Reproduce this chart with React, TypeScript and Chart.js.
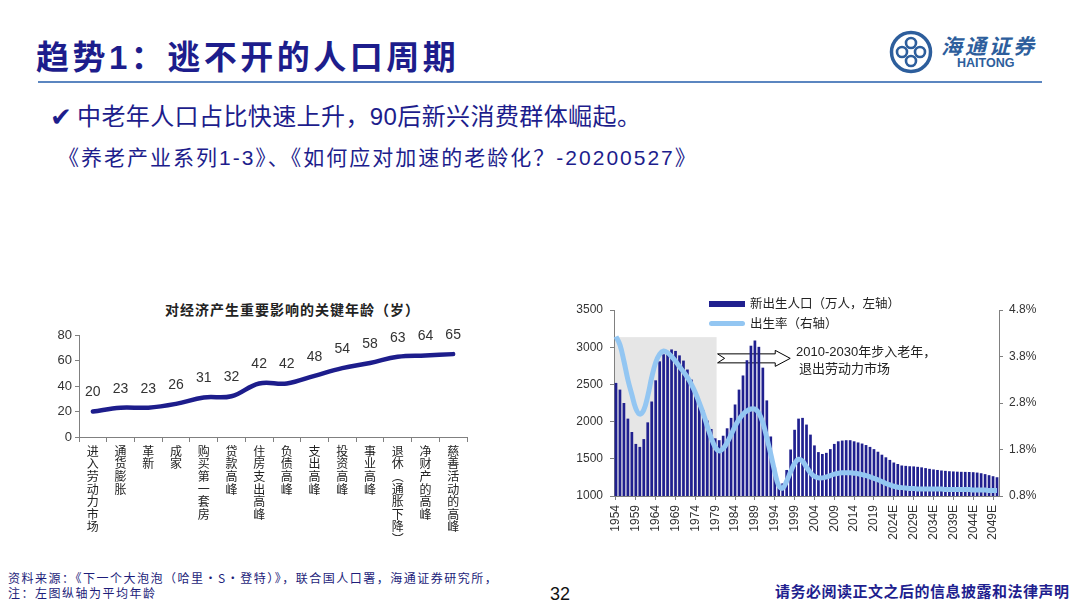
import React, { useEffect, useRef } from 'react';
import { Chart, registerables } from 'chart.js';

Chart.register(...registerables);

// ---------- Left chart data ----------
const ageCategories = [
  '进入劳动力市场', '通货膨胀', '革新', '成家', '购买第一套房', '贷款高峰', '住房支出高峰',
  '负债高峰', '支出高峰', '投资高峰', '事业高峰', '退休（通胀下降）', '净财产的高峰', '慈善活动的高峰',
];
const keyAges = [20, 23, 23, 26, 31, 32, 42, 42, 48, 54, 58, 63, 64, 65];
const ageAxisMin = 0;
const ageAxisMax = 80;
const ageAxisStep = 20;

// ---------- Right chart data ----------
const firstYear = 1954;
const lastActualYear = 2019;
const lastYear = 2050;
const yearLabels = Array.from({ length: lastYear - firstYear + 1 }, (_, i) => {
  const y = firstYear + i;
  return y <= lastActualYear ? String(y) : y + 'E';
});

// 新出生人口（万人） 1954 - 2050E
const births = [
  2520, 2430, 2250, 2040, 1860, 1700, 1660, 1765, 1990, 2270, // 1954-1963
  2555, 2810, 2905, 2950, 2970, 2950, 2890, 2820, 2700, 2565, // 1964-1973
  2420, 2285, 2150, 2015, 1900, 1775, 1750, 1810, 1910, 2050, // 1974-1983
  2230, 2430, 2620, 2825, 3020, 3090, 3005, 2725, 2285, 1800, // 1984-1993
  1385, 1170, 1170, 1350, 1625, 1890, 2040, 2050, 1960, 1825, // 1994-2003
  1680, 1590, 1565, 1580, 1630, 1700, 1735, 1745, 1750, 1750, // 2004-2013
  1735, 1720, 1705, 1685, 1660, 1630, 1595, 1555, 1520, 1485, // 2014-2023
  1450, 1430, 1410, 1405, 1400, 1398, 1392, 1385, 1375, 1365, // 2024-2033
  1357, 1350, 1343, 1338, 1333, 1330, 1327, 1325, 1324, 1323, // 2034-2043
  1320, 1315, 1306, 1294, 1280, 1266, 1252,                   // 2044-2050
];

// 出生率（%） 1954 - 2050E
const birthRate = [
  4.23, 4.05, 3.7, 3.3, 2.98, 2.68, 2.56, 2.65, 2.95, 3.35, // 1954-1963
  3.67, 3.85, 3.92, 3.88, 3.8, 3.7, 3.58, 3.47, 3.35, 3.2,  // 1964-1973
  3.02, 2.8, 2.57, 2.3, 2.05, 1.85, 1.77, 1.82, 1.95, 2.12, // 1974-1983
  2.3, 2.45, 2.56, 2.63, 2.67, 2.67, 2.58, 2.38, 2.05, 1.7, // 1984-1993
  1.32, 1.02, 0.97, 1.12, 1.32, 1.5, 1.59, 1.55, 1.42, 1.3, // 1994-2003
  1.22, 1.19, 1.19, 1.21, 1.24, 1.27, 1.29, 1.3, 1.3, 1.3,  // 2004-2013
  1.29, 1.28, 1.26, 1.24, 1.21, 1.18, 1.15, 1.11, 1.07, 1.04, // 2014-2023
  1.01, 0.99, 0.98, 0.97, 0.96, 0.96, 0.95, 0.95, 0.95, 0.95, // 2024-2033
  0.95, 0.95, 0.95, 0.94, 0.94, 0.94, 0.94, 0.94, 0.94, 0.94, // 2034-2043
  0.93, 0.93, 0.93, 0.93, 0.92, 0.92, 0.92,                   // 2044-2050
];

const birthsAxisMin = 1000;
const birthsAxisMax = 3500;
const birthsAxisStep = 500;
const rateAxisMin = 0.8;
const rateAxisMax = 4.8;
const rateAxisStep = 1;

// annotation anchors (in data units)
const shadeEndIndex = 25;      // 1979
const shadeTopValue = 3135;
const arrowFromIndex = 25.6;
const arrowToIndex = 43.9;
const arrowLevel = 2850;

const NAVY = '#1D1D8C';
const BAR_NAVY = '#20208F';
const LIGHT_BLUE = '#93C6F2';
const AXIS_GREY = '#808080';
const LATIN = '"Liberation Sans", Arial, "Noto Sans CJK SC", sans-serif';
const CJK = '"Noto Sans CJK SC", "Liberation Sans", sans-serif';

const valueLabelPlugin = {
  id: 'valueLabels',
  afterDatasetsDraw(chart: any) {
    const { ctx } = chart;
    const meta = chart.getDatasetMeta(0);
    const data = chart.data.datasets[0].data;
    ctx.save();
    ctx.font = '14px ' + LATIN;
    ctx.fillStyle = '#333333';
    ctx.textAlign = 'center';
    ctx.textBaseline = 'middle';
    meta.data.forEach((pt: any, i: number) => {
      ctx.fillText(String(data[i]), pt.x, pt.y - 19);
    });
    ctx.restore();
  },
};

const annotationPlugin = {
  id: 'annotations',
  beforeDatasetsDraw(chart: any) {
    const { ctx, chartArea } = chart;
    const xs = chart.scales.x;
    const ys = chart.scales.y;
    ctx.save();
    // grey shaded period
    const step = xs.getPixelForValue(1) - xs.getPixelForValue(0);
    const right = xs.getPixelForValue(shadeEndIndex) + step * 0.35;
    const top = ys.getPixelForValue(shadeTopValue);
    ctx.fillStyle = '#E6E6E6';
    ctx.fillRect(chartArea.left + 1, top, right - chartArea.left - 1, chartArea.bottom - top);
    // hollow notched arrow
    const x0 = xs.getPixelForValue(arrowFromIndex);
    const x1 = xs.getPixelForValue(arrowToIndex);
    const cy = ys.getPixelForValue(arrowLevel);
    const bh = 4.5, hh = 8, hl = 15, notch = 7;
    ctx.beginPath();
    ctx.moveTo(x0, cy - bh);
    ctx.lineTo(x1 - hl, cy - bh);
    ctx.lineTo(x1 - hl, cy - hh);
    ctx.lineTo(x1, cy);
    ctx.lineTo(x1 - hl, cy + hh);
    ctx.lineTo(x1 - hl, cy + bh);
    ctx.lineTo(x0, cy + bh);
    ctx.lineTo(x0 + notch, cy);
    ctx.closePath();
    ctx.fillStyle = '#FFFFFF';
    ctx.fill();
    ctx.lineWidth = 1;
    ctx.strokeStyle = '#000000';
    ctx.stroke();
    ctx.restore();
  },
};

function AgeChart() {
  const ref = useRef<HTMLCanvasElement>(null);
  useEffect(() => {
    const chart = new Chart(ref.current as HTMLCanvasElement, {
      type: 'line',
      data: {
        labels: ageCategories,
        datasets: [
          {
            data: keyAges,
            borderColor: NAVY,
            borderWidth: 4.5,
            tension: 0.4,
            pointRadius: 0,
            fill: false,
            borderCapStyle: 'round',
          },
        ],
      },
      options: {
        animation: false,
        responsive: false,
        maintainAspectRatio: false,
        layout: { padding: { left: 0, right: 13, top: 15, bottom: 0 } },
        plugins: { legend: { display: false }, tooltip: { enabled: false } },
        scales: {
          x: {
            type: 'category',
            offset: true,
            grid: { offset: true, drawOnChartArea: false, tickLength: 5, color: AXIS_GREY },
            border: { color: AXIS_GREY },
            ticks: {
              autoSkip: false,
              maxRotation: 0,
              minRotation: 0,
              padding: 3,
              color: '#222222',
              font: { family: CJK, size: 12, lineHeight: 1.05 },
              callback: (_v: any, i: number) =>
                ageCategories[i].replace('（', '︵').replace('）', '︶').split(''),
            },
            afterFit: (s: any) => { s.height = 113; },
          },
          y: {
            min: ageAxisMin,
            max: ageAxisMax,
            ticks: {
              stepSize: ageAxisStep,
              padding: 3,
              color: '#333333',
              font: { family: LATIN, size: 13 },
              callback: (v: any) => String(v),
            },
            grid: { drawOnChartArea: false, tickLength: 4, color: AXIS_GREY },
            border: { color: AXIS_GREY },
            afterFit: (s: any) => { s.width = 49; },
          },
        },
      } as any,
      plugins: [valueLabelPlugin],
    });
    return () => chart.destroy();
  }, []);
  return (
    <canvas
      ref={ref}
      width={450}
      height={230}
      style={{ position: 'absolute', left: 30, top: 320, width: 450, height: 230 }}
    />
  );
}

function BirthChart() {
  const ref = useRef<HTMLCanvasElement>(null);
  useEffect(() => {
    const chart = new Chart(ref.current as HTMLCanvasElement, {
      type: 'bar',
      data: {
        labels: yearLabels,
        datasets: [
          {
            type: 'line',
            label: '出生率（右轴）',
            data: birthRate,
            yAxisID: 'y1',
            borderColor: LIGHT_BLUE,
            borderWidth: 5,
            pointRadius: 0,
            tension: 0.4,
            fill: false,
            order: 0,
          },
          {
            type: 'bar',
            label: '新出生人口（万人，左轴）',
            data: births,
            yAxisID: 'y',
            backgroundColor: BAR_NAVY,
            barPercentage: 0.68,
            categoryPercentage: 1,
            order: 1,
          },
        ],
      },
      options: {
        animation: false,
        responsive: false,
        maintainAspectRatio: false,
        layout: { padding: { left: 0, right: 0, top: 15, bottom: 0 } },
        plugins: { legend: { display: false }, tooltip: { enabled: false } },
        scales: {
          x: {
            offset: true,
            grid: {
              offset: false,
              drawOnChartArea: false,
              tickLength: 4,
              color: (c: any) => (c.index % 5 === 0 ? AXIS_GREY : 'rgba(0,0,0,0)'),
            },
            border: { color: AXIS_GREY },
            ticks: {
              autoSkip: false,
              minRotation: 90,
              maxRotation: 90,
              padding: 5,
              color: '#333333',
              font: { family: LATIN, size: 12 },
              callback: (_v: any, i: number) => (i % 5 === 0 ? yearLabels[i] : ''),
            },
            afterFit: (s: any) => { s.height = 64; },
          },
          y: {
            position: 'left',
            min: birthsAxisMin,
            max: birthsAxisMax,
            ticks: {
              stepSize: birthsAxisStep,
              padding: 7,
              color: '#333333',
              font: { family: LATIN, size: 12 },
              callback: (v: any) => String(v),
            },
            grid: { drawOnChartArea: false, tickLength: 4, color: AXIS_GREY },
            border: { color: AXIS_GREY },
            afterFit: (s: any) => { s.width = 59; },
          },
          y1: {
            position: 'right',
            min: rateAxisMin,
            max: rateAxisMax,
            ticks: {
              stepSize: rateAxisStep,
              padding: 6,
              color: '#333333',
              font: { family: LATIN, size: 12 },
              callback: (v: any) => Number(v).toFixed(1) + '%',
            },
            grid: { drawOnChartArea: false, tickLength: 4, color: AXIS_GREY },
            border: { color: AXIS_GREY },
            afterFit: (s: any) => { s.width = 81; },
          },
        },
      } as any,
      plugins: [annotationPlugin],
    });
    return () => chart.destroy();
  }, []);
  return (
    <canvas
      ref={ref}
      width={525}
      height={265}
      style={{ position: 'absolute', left: 555, top: 295, width: 525, height: 265 }}
    />
  );
}

const abs = (left: number, top: number, extra: React.CSSProperties = {}): React.CSSProperties => ({
  position: 'absolute',
  left,
  top,
  whiteSpace: 'nowrap',
  ...extra,
});

export default function App() {
  return (
    <div
      style={{
        position: 'fixed',
        left: 0,
        top: 0,
        width: 1080,
        height: 607,
        background: '#FFFFFF',
        overflow: 'hidden',
        fontFamily: CJK,
      }}
    >
      {/* Title */}
      <div style={abs(36, 40, { fontSize: 33, lineHeight: '36px', fontWeight: 700, color: NAVY, fontFamily: LATIN, letterSpacing: 3.5 })}>
        趋势1：逃不开的人口周期
      </div>
      <div style={abs(38, 81, { width: 1004, height: 2, background: '#5B86C0' })} />

      {/* Logo */}
      <svg style={{ position: 'absolute', left: 888, top: 29 }} width={46} height={46} viewBox="0 0 46 46">
        <circle cx={23} cy={23} r={19.5} fill="none" stroke="#2D5E9C" strokeWidth={3.5} />
        <circle cx={23} cy={14} r={5} fill="none" stroke="#2D5E9C" strokeWidth={2.6} />
        <circle cx={23} cy={32} r={5} fill="none" stroke="#2D5E9C" strokeWidth={2.6} />
        <circle cx={14} cy={23} r={5} fill="none" stroke="#2D5E9C" strokeWidth={2.6} />
        <circle cx={32} cy={23} r={5} fill="none" stroke="#2D5E9C" strokeWidth={2.6} />
      </svg>
      <div style={abs(941, 32, { fontSize: 21, lineHeight: '26px', fontStyle: 'italic', fontWeight: 700, color: '#2D5E9C', letterSpacing: 3 })}>
        海通证券
      </div>
      <div style={abs(957, 56, { fontSize: 12.5, lineHeight: '14px', fontWeight: 700, color: '#2D5E9C', fontFamily: LATIN })}>
        HAITONG
      </div>

      {/* Bullet + subtitle */}
      <div style={abs(50, 100, { fontSize: 26, lineHeight: '34px', color: NAVY, fontFamily: '"DejaVu Sans", sans-serif' })}>
        ✔
      </div>
      <div style={abs(77, 101, { fontSize: 24, lineHeight: '32px', color: NAVY, fontFamily: LATIN, letterSpacing: 0.4 })}>
        中老年人口占比快速上升，90后新兴消费群体崛起。
      </div>
      <div style={abs(58, 144, { fontSize: 21, lineHeight: '28px', color: NAVY, fontFamily: LATIN, letterSpacing: 2 })}>
        《养老产业系列1-3》、《如何应对加速的老龄化？-20200527》
      </div>

      {/* Left chart */}
      <div style={abs(165, 299, { fontSize: 14, lineHeight: '20px', fontWeight: 700, color: '#222222', letterSpacing: 1 })}>
        对经济产生重要影响的关键年龄（岁）
      </div>
      <AgeChart />

      {/* Right chart */}
      <BirthChart />
      <div style={abs(709, 301, { width: 36, height: 6, background: BAR_NAVY })} />
      <div style={abs(750, 294, { fontSize: 12.5, lineHeight: '18px', color: '#222222' })}>
        新出生人口（万人，左轴）
      </div>
      <div style={abs(709, 321, { width: 36, height: 5, borderRadius: 3, background: LIGHT_BLUE })} />
      <div style={abs(750, 314, { fontSize: 12.5, lineHeight: '18px', color: '#222222' })}>
        出生率（右轴）
      </div>
      <div style={abs(796, 343, { fontSize: 13, lineHeight: '18px', color: '#222222', fontFamily: LATIN })}>
        2010-2030年步入老年，
      </div>
      <div style={abs(799, 360, { fontSize: 13, lineHeight: '18px', color: '#222222', fontFamily: LATIN })}>
        退出劳动力市场
      </div>

      {/* Footer */}
      <div style={abs(8, 570, { fontSize: 12, lineHeight: '16px', color: '#1D1D7A', letterSpacing: 1.5 })}>
        资料来源：《下一个大泡泡（哈里·S·登特）》，联合国人口署，海通证券研究所，
      </div>
      <div style={abs(8, 585, { fontSize: 12, lineHeight: '16px', color: '#1D1D7A', letterSpacing: 1.5 })}>
        注：左图纵轴为平均年龄
      </div>
      <div style={abs(550, 584, { fontSize: 18, lineHeight: '20px', color: '#111111', fontFamily: LATIN })}>
        32
      </div>
      <div style={abs(775, 581, { fontSize: 15, lineHeight: '20px', fontWeight: 700, color: '#1F1F8F', letterSpacing: 0.5 })}>
        请务必阅读正文之后的信息披露和法律声明
      </div>
    </div>
  );
}
